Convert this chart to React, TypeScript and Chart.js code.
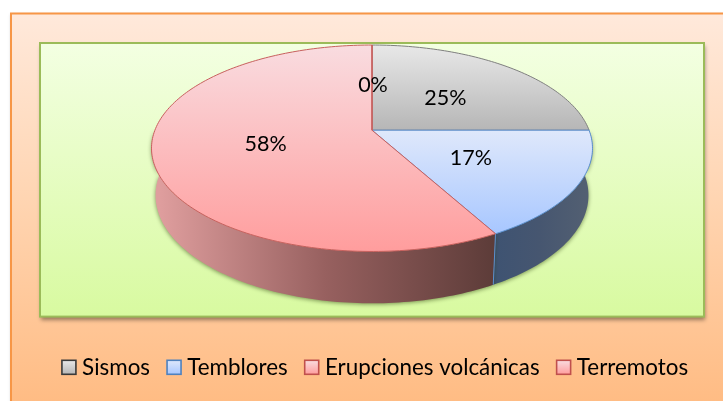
import React, { useEffect, useRef } from "react";
import { Chart, registerables } from "chart.js";

Chart.register(...registerables);

const categories = ["Sismos", "Temblores", "Erupciones volcánicas", "Terremotos"];
const values = [25, 17, 58, 0];

const topStops = [
  ["#E8E8E8", "#B6B6B6"],
  ["#DFE8FB", "#A8C7FF"],
  ["#F9DCE0", "#FF9D9D"],
  ["#F9DCE0", "#FF9D9D"],
];
const lineColors = ["#7F7F7F", "#5A8FD0", "#C8605E", "#C8605E"];
const wallStops = [
  ["#555", "#555", "#555"],
  ["#3E5372", "#465670", "#525F72"],
  ["#DF9E9E", "#97605F", "#5D3C39"],
  ["#DF9E9E", "#97605F", "#5D3C39"],
];
const swatchBorders = ["#3A3A3A", "#4F81BD", "#C0504D", "#C0504D"];

const FONT = "Lato";
const fontSize = 22.4;
const labelFontSize = 21.5;
const k = 0.1748;

function project(arc: any, theta: number, f: number, low: boolean) {
  const R = arc.outerRadius;
  const X = Math.sin(theta) * f;
  const Y = Math.cos(theta) * f;
  const w = 1 + k * Y;
  const ax = (low ? 1.558 : 1.587) * R;
  const ay = (low ? 0.766 : 0.7315) * R;
  const oy = arc.y + (low ? -0.0255 : -0.3626) * R;
  return { x: arc.x + (ax * X) / w, y: oy - (ay * Y) / w };
}

function rimPath(ctx: CanvasRenderingContext2D, arc: any, a: number, b: number, low: boolean, move: boolean) {
  const n = Math.max(2, Math.ceil(Math.abs(b - a) / 0.02));
  for (let i = 0; i <= n; i++) {
    const p = project(arc, a + ((b - a) * i) / n, 1, low);
    if (i === 0 && move) ctx.moveTo(p.x, p.y);
    else ctx.lineTo(p.x, p.y);
  }
}

const pie3d = {
  id: "pie3d",
  beforeDraw(chart: any) {
    const { ctx, chartArea: c, width, height } = chart;
    ctx.save();
    const bg = ctx.createLinearGradient(0, 13, 0, height);
    bg.addColorStop(0, "#FFE9DB");
    bg.addColorStop(0.5, "#FFD4B0");
    bg.addColorStop(1, "#FFBC84");
    ctx.shadowColor = "rgba(0,0,0,0.25)";
    ctx.shadowBlur = 3;
    ctx.fillStyle = bg;
    ctx.fillRect(11, 13.5, width, height);
    ctx.shadowColor = "transparent";
    ctx.strokeStyle = "#F79646";
    ctx.lineWidth = 2;
    ctx.strokeRect(11, 13.5, width, height);
    const g = ctx.createLinearGradient(0, c.top, 0, c.bottom);
    g.addColorStop(0, "#F3FFE2");
    g.addColorStop(1, "#D8FAA0");
    ctx.shadowColor = "rgba(0,0,0,0.4)";
    ctx.shadowBlur = 4;
    ctx.shadowOffsetX = 1;
    ctx.shadowOffsetY = 3;
    ctx.fillStyle = g;
    ctx.fillRect(c.left, c.top, c.right - c.left, c.bottom - c.top);
    ctx.shadowColor = "transparent";
    ctx.shadowOffsetX = 0;
    ctx.shadowOffsetY = 0;
    ctx.strokeStyle = "#9BBB59";
    ctx.lineWidth = 2;
    ctx.strokeRect(c.left, c.top, c.right - c.left, c.bottom - c.top);
    ctx.restore();
  },
  beforeDatasetDraw(chart: any, args: any) {
    const { ctx } = chart;
    const arcs = args.meta.data;
    const lo = Math.PI / 2;
    const hi = (3 * Math.PI) / 2;
    ctx.save();
    arcs.forEach((arc: any, i: number) => {
      const a = Math.max(arc.startAngle + Math.PI / 2, lo);
      const b = Math.min(arc.endAngle + Math.PI / 2, hi);
      if (b <= a) return;
      const x1 = project(arc, a, 1, true).x;
      const x2 = project(arc, b, 1, true).x;
      const left = Math.min(x1, x2);
      const right = Math.max(x1, x2);
      const grad = ctx.createLinearGradient(left, 0, right, 0);
      const st = wallStops[i];
      grad.addColorStop(0, st[0]);
      grad.addColorStop(0.5, st[1]);
      grad.addColorStop(1, st[2]);
      ctx.beginPath();
      rimPath(ctx, arc, a, b, false, true);
      rimPath(ctx, arc, b, a, true, false);
      ctx.closePath();
      ctx.save();
      ctx.shadowColor = "rgba(40,60,10,0.55)";
      ctx.shadowBlur = 4;
      ctx.shadowOffsetY = 1;
      ctx.fillStyle = grad;
      ctx.fill();
      ctx.restore();
    });
    arcs.forEach((arc: any) => {
      const a = arc.startAngle + Math.PI / 2;
      if (a <= lo || a >= hi) return;
      const p = project(arc, a, 1, false);
      const q = project(arc, a, 1, true);
      ctx.strokeStyle = lineColors[1];
      ctx.lineWidth = 1;
      ctx.beginPath();
      ctx.moveTo(p.x, p.y);
      ctx.lineTo(q.x, q.y);
      ctx.stroke();
    });
    arcs.forEach((arc: any, i: number) => {
      const a = arc.startAngle + Math.PI / 2;
      const b = arc.endAngle + Math.PI / 2;
      const apex = project(arc, 0, 0, false);
      let top = apex.y;
      let bottom = apex.y;
      for (let t = a; t <= b; t += 0.02) {
        const p = project(arc, t, 1, false);
        top = Math.min(top, p.y);
        bottom = Math.max(bottom, p.y);
      }
      const grad = ctx.createLinearGradient(0, top, 0, bottom);
      grad.addColorStop(0, topStops[i][0]);
      grad.addColorStop(1, topStops[i][1]);
      ctx.beginPath();
      ctx.moveTo(apex.x, apex.y);
      rimPath(ctx, arc, a, b, false, false);
      ctx.closePath();
      ctx.fillStyle = grad;
      ctx.fill();
      ctx.strokeStyle = lineColors[i];
      ctx.lineWidth = 1;
      ctx.stroke();
    });
    const total = values.reduce((s, v) => s + v, 0);
    ctx.fillStyle = "#000";
    ctx.font = `${labelFontSize}px ${FONT}`;
    ctx.textAlign = "center";
    ctx.textBaseline = "middle";
    arcs.forEach((arc: any, i: number) => {
      const mid = (arc.startAngle + arc.endAngle) / 2 + Math.PI / 2;
      const p = project(arc, mid, 0.5, false);
      ctx.fillText(`${Math.round((values[i] / total) * 100)}%`, p.x + 1, p.y + 1);
    });
    ctx.restore();
    return false;
  },
  afterLayout(chart: any) {
    const l = chart.legend;
    if (!l) return;
    const d = 29;
    l.top += d;
    l.bottom += d;
  },
  afterDraw(chart: any) {
    const { ctx, legend } = chart;
    if (!legend) return;
    ctx.save();
    legend.legendHitBoxes.forEach((b: any, i: number) => {
      const x = b.left + 6;
      const y = legend.top + (legend.bottom - legend.top - 14) / 2;
      const g = ctx.createLinearGradient(0, y, 0, y + 14);
      g.addColorStop(0, topStops[i][0]);
      g.addColorStop(1, topStops[i][1]);
      ctx.fillStyle = g;
      ctx.fillRect(x, y, 14, 14);
      ctx.strokeStyle = swatchBorders[i];
      ctx.lineWidth = 1.6;
      ctx.strokeRect(x, y, 14, 14);
    });
    ctx.restore();
  },
};

export default function App() {
  const ref = useRef<HTMLCanvasElement>(null);
  useEffect(() => {
    const chart = new Chart(ref.current as HTMLCanvasElement, {
      type: "pie",
      data: {
        labels: categories,
        datasets: [{ data: values, backgroundColor: lineColors, borderWidth: 0 }],
      },
      plugins: [pie3d],
      options: {
        animation: false,
        responsive: false,
        layout: { padding: { left: 40, right: 19, top: 43, bottom: 41 } },
        plugins: {
          tooltip: { enabled: false },
          legend: {
            position: "bottom",
            labels: {
              boxWidth: 15,
              boxHeight: 14,
              padding: 11,
              color: "#000",
              font: { family: FONT, size: fontSize },
              generateLabels: (c: any) =>
                c.data.labels.map((text: string, i: number) => ({
                  text,
                  fillStyle: "transparent",
                  strokeStyle: "transparent",
                  lineWidth: 0,
                  index: i,
                })),
            },
          },
        },
      },
    } as any);
    return () => chart.destroy();
  }, []);
  return (
    <div style={{ position: "fixed", left: 0, top: 0, width: 723, height: 401, overflow: "hidden" }}>
      <canvas ref={ref} width={723} height={401} style={{ display: "block" }} />
    </div>
  );
}
